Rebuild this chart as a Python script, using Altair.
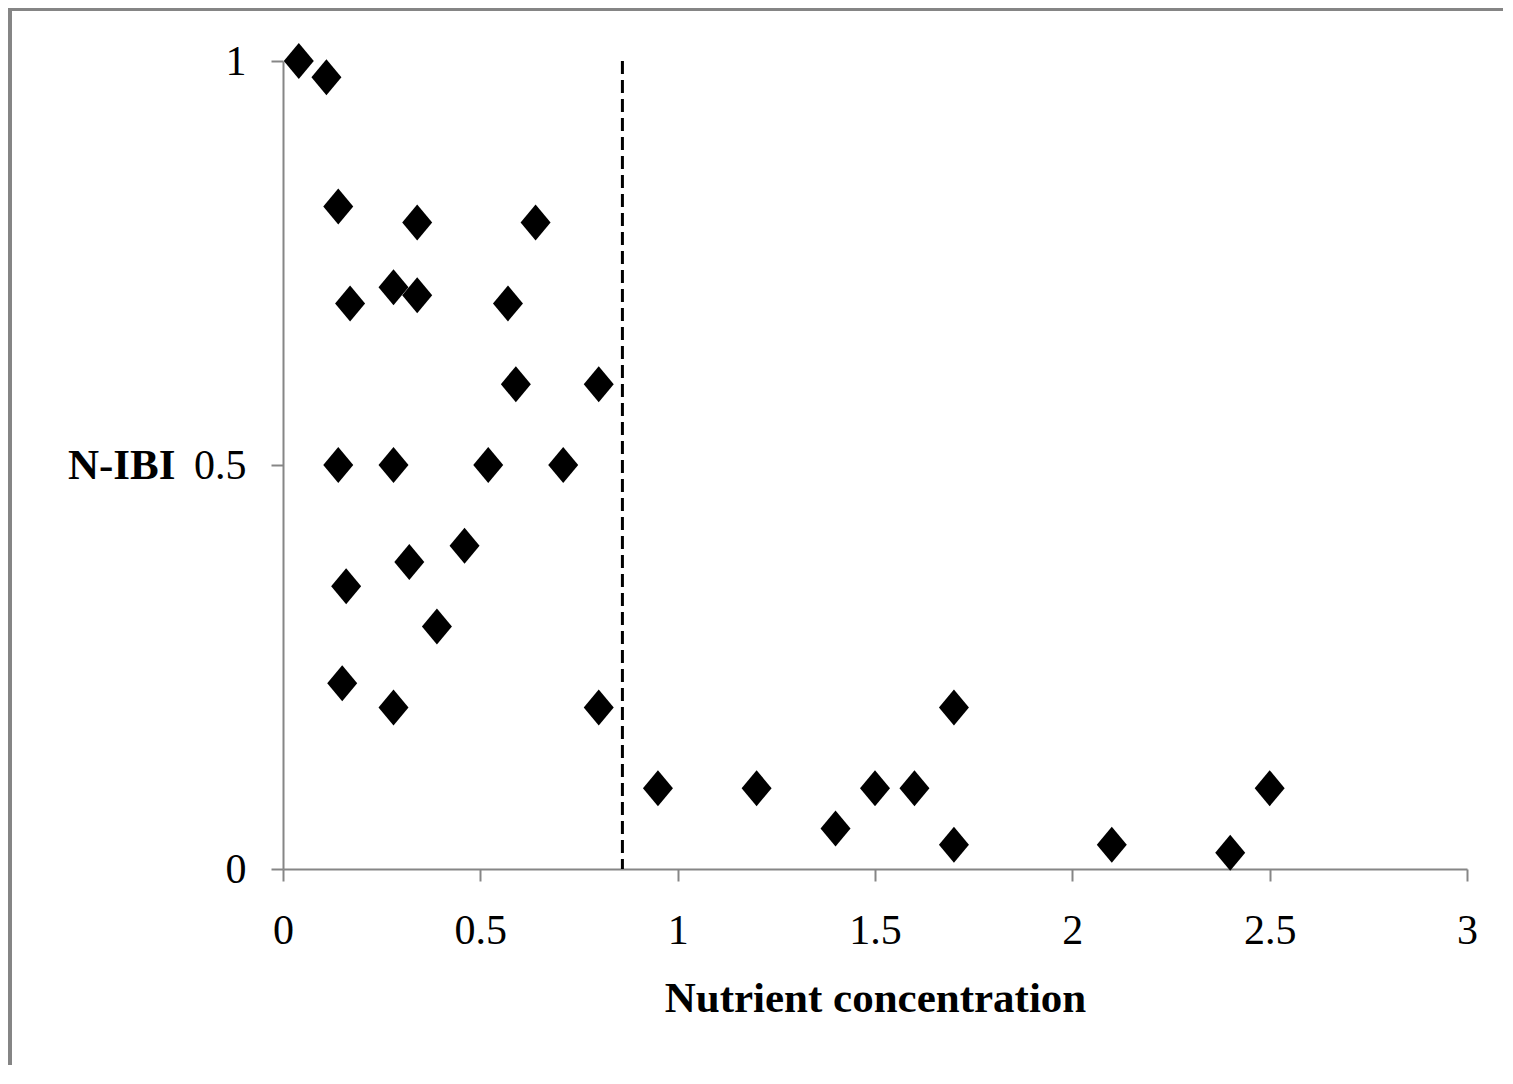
import altair as alt
import pandas as pd

nutrient = [0.04, 0.11, 0.14, 0.34, 0.64, 0.28, 0.34, 0.17, 0.57, 0.59, 0.80,
            0.14, 0.28, 0.52, 0.71, 0.46, 0.32, 0.16, 0.39, 0.15, 0.28, 0.80,
            0.95, 1.20, 1.40, 1.50, 1.60, 1.70, 1.70, 2.10, 2.40, 2.50]
nibi = [1.00, 0.98, 0.82, 0.80, 0.80, 0.72, 0.71, 0.70, 0.70, 0.60, 0.60,
        0.50, 0.50, 0.50, 0.50, 0.40, 0.38, 0.35, 0.30, 0.23, 0.20, 0.20,
        0.10, 0.10, 0.05, 0.10, 0.10, 0.20, 0.03, 0.03, 0.02, 0.10]
threshold = [0.86]
x_ticks = [0, 0.5, 1, 1.5, 2, 2.5, 3]
y_ticks = [0, 0.5, 1]

df = pd.DataFrame({"x": nutrient, "y": nibi})
thr = pd.DataFrame({"t": threshold})

FONT = "Liberation Serif"
AXC = "#868686"
W, H = 1184, 808

xscale = alt.Scale(domain=[0, 3], nice=False, zero=False)
yscale = alt.Scale(domain=[0, 1], nice=False, zero=False)

# decorative frame edges (top and left) of the figure
one = pd.DataFrame({"a": [0]})
frame_top = alt.Chart(one).mark_rule(color="#858585", strokeWidth=4).encode(
    x=alt.value(-275), x2=alt.value(W + 80), y=alt.value(-52)
)
frame_left = alt.Chart(one).mark_rule(color="#858585", strokeWidth=4).encode(
    x=alt.value(-273), y=alt.value(-54), y2=alt.value(H + 260)
)

points = alt.Chart(df).mark_point(
    shape="M 0 -1.2 L 1 0 L 0 1.2 L -1 0 Z", filled=True, fill="black",
    strokeWidth=0, size=900, opacity=1
).encode(
    x=alt.X("x:Q", scale=xscale, axis=alt.Axis(
        values=x_ticks, title="Nutrient concentration", grid=False,
        format=".1~f",
        domainColor=AXC, domainWidth=2, tickColor=AXC, tickWidth=2, tickSize=12,
        labelFont=FONT, labelFontSize=42, labelColor="black", labelPadding=29,
        labelFlush=False, labelOverlap=False,
        titleFont=FONT, titleFontSize=43, titleFontWeight="bold", titleColor="black",
        titlePadding=26,
    )),
    y=alt.Y("y:Q", scale=yscale, axis=alt.Axis(
        values=y_ticks, title="N-IBI", grid=False,
        format=".1~f",
        domainColor=AXC, domainWidth=2, tickColor=AXC, tickWidth=2, tickSize=12,
        labelFont=FONT, labelFontSize=42, labelColor="black", labelPadding=25,
        labelFlush=False, labelOverlap=False,
        titleFont=FONT, titleFontSize=43, titleFontWeight="bold", titleColor="black",
        titleAngle=0, titleAlign="right", titleBaseline="middle",
        titleX=-108, titleY=H / 2,
    )),
)

rule = alt.Chart(thr).mark_rule(
    color="black", strokeWidth=3, strokeDash=[13, 6]
).encode(x=alt.X("t:Q", scale=xscale))

chart = alt.layer(frame_top, frame_left, rule, points).properties(
    width=W, height=H,
    autosize=alt.AutoSizeParams(type="none"),
    padding={"left": 275, "top": 53, "right": 36, "bottom": 196},
    background="white",
).configure_view(stroke=None)

chart.save("out.html", embed_options={"renderer": "svg", "actions": False})
